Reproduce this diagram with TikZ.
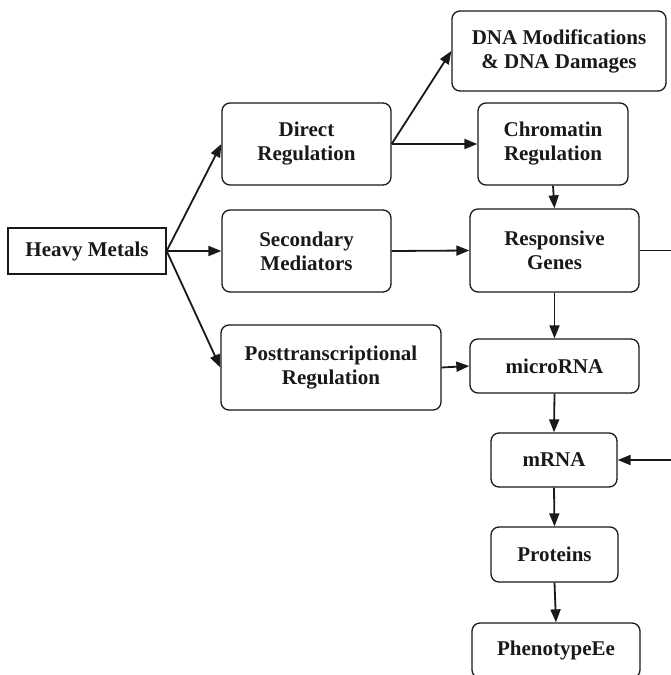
\documentclass[tikz,border=0pt]{standalone}
\usepackage{fontspec}
\setmainfont{Liberation Serif}
\usetikzlibrary{arrows.meta}
\begin{document}
\begin{tikzpicture}[x=1pt,y=-1pt,
  box/.style={draw=black!90, line width=1.3pt, rounded corners=8pt, align=center,
    font=\fontsize{21}{24}\selectfont\bfseries, inner sep=0pt, text=black!90},
  sqbox/.style={box, rounded corners=0pt},
  arr/.style={draw=black!90, line width=1.8pt, -{Triangle[length=13pt,width=10pt]}}]
\useasboundingbox (0,0) rectangle (670,675);
\node[sqbox, minimum width=158pt, minimum height=46pt] (heavy) at (87,251) {Heavy Metals};
\node[box, minimum width=169pt, minimum height=82pt] (direct) at (306.5,144) {Direct\\Regulation};
\node[box, minimum width=169pt, minimum height=82pt] (second) at (306.5,251) {Secondary\\Mediators};
\node[box, minimum width=220pt, minimum height=85pt] (post) at (331,367.5) {Posttranscriptional\\Regulation};
\node[box, minimum width=214pt, minimum height=80pt] (dna) at (559,51) {DNA Modifications\\\& DNA Damages};
\node[box, minimum width=150pt, minimum height=82pt] (chrom) at (553,144) {Chromatin\\Regulation};
\node[box, minimum width=169pt, minimum height=83pt] (resp) at (554.5,250.5) {Responsive\\Genes};
\node[box, minimum width=169pt, minimum height=54pt] (mirna) at (554.5,366) {microRNA};
\node[box, minimum width=126pt, minimum height=54pt] (mrna) at (554,460) {mRNA};
\node[box, minimum width=127pt, minimum height=55pt] (prot) at (554.5,554.5) {Proteins};
\node[box, minimum width=168pt, minimum height=55pt] (pheno) at (556,650.5) {PhenotypeEe};
\coordinate (c1) at (673,250.5);
\coordinate (c2) at (673,460);
\draw[arr] (heavy.east) -- (direct.west);
\draw[arr] (heavy.east) -- (second.west);
\draw[arr] (heavy.east) -- (post.west);
\draw[arr] (direct.east) -- (dna.west);
\draw[arr] (direct.east) -- (chrom.west);
\draw[arr] (chrom.south) -- (resp.north);
\draw[arr] (second.east) -- (resp.west);
\draw[arr] (resp.south) -- (mirna.north);
\draw[arr] (post.east) -- (mirna.west);
\draw[arr] (mirna.south) -- (mrna.north);
\draw[arr] (mrna.south) -- (prot.north);
\draw[arr] (prot.south) -- (pheno.north);
\draw[arr] (resp.east) -- (c1) -- (c2) -- (mrna.east);
\end{tikzpicture}
\end{document}
